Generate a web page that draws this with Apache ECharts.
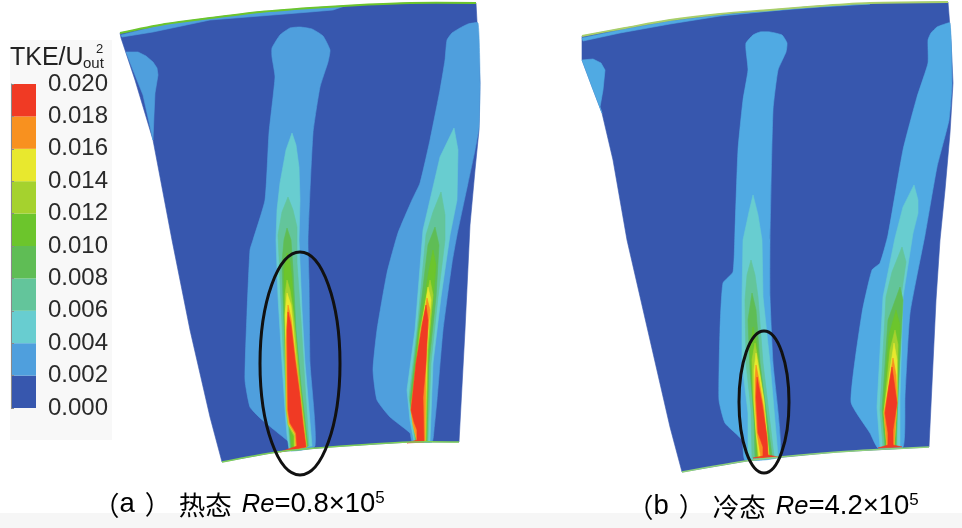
<!DOCTYPE html>
<html><head><meta charset="utf-8">
<style>html,body{margin:0;padding:0;background:#fff}#c{width:962px;height:528px}</style>
<script src="https://cdn.jsdelivr.net/npm/echarts@6/dist/echarts.min.js"></script></head>
<body><div id="c"></div>
<script>
// Colour scale (TKE/Uout^2)
const levelValues=[0,0.002,0.004,0.006,0.008,0.010,0.012,0.014,0.016,0.018,0.020];
const levelColors=['#3757ae','#4f9fdd','#68cdd0','#63c59b','#5fbd55','#6cc52c','#a5d22e','#e8e82e','#f8911f','#f03a24'];
const tickLabels=['0.000','0.002','0.004','0.006','0.008','0.010','0.012','0.014','0.016','0.018','0.020'];
const bluePanelB='#50aae3';

// Panel outlines [x,y] in picture units
const bladeA=[[120,33],[165,24],[210,18],[260,12],[310,8],[360,5],[410,3],[476,3],[478,40],[480,83],[479,130],[475,170],[470,225],[465,330],[459,442],[410,442],[330,447],[277,452],[222,462],[210,417],[190,330],[172,240],[153,140],[135,80],[121,38]];
const bladeB=[[582,36],[625,28],[670,20],[720,14],[770,10],[820,6],[870,3],[948,2],[951,40],[953,83],[950,133],[945,190],[940,240],[936,300],[929,447],[837,452],[753,460],[682,472],[670,427],[650,340],[627,240],[613,160],[602,113],[582,60]];

// Contour bands of panel (a)
const a_edgeBand=[[121,35],[165,24],[210,18],[260,12],[310,8],[345,6],[333,10],[310,12],[210,20],[153,32],[122,37]];
const a_leftPatch=[[126,52],[138,52],[146,56],[153,62],[157,68],[158,75],[155,93],[154,115],[153,140],[143,95],[133,70]];
const a_w1=[
 [[300,27],[312,29],[323,36],[330,50],[328,62],[320,87],[313,133],[308,240],[309,280],[310,363],[315,446],[291,451],[290,443],[278,433],[260,418],[250,407],[245,380],[247,313],[250,250],[253,240],[265,200],[269,133],[275,77],[272,57],[272,48],[280,35],[290,28]],
 [[292,133],[296,145],[299,167],[300,200],[299,240],[300,263],[302,310],[305,363],[309,410],[312,446],[289,449],[287,435],[285,410],[282,363],[278,297],[276,240],[277,210],[280,183],[286,150]],
 [[288,197],[293,210],[297,227],[297,263],[301,320],[305,385],[309,446],[290,449],[287,403],[283,347],[280,280],[278,235],[282,212]],
 [[287,228],[291,240],[293,270],[296,330],[301,385],[308,446],[291,449],[288,410],[285,350],[283,300],[282,262],[284,240]],
 [[287,253],[290,262],[292,280],[295,330],[300,385],[307,447],[292,449],[289,415],[286,350],[284,295],[284,270]],
 [[287,280],[290,290],[293,310],[295,330],[300,385],[307,447],[294,449],[294,436],[288,425],[286,410],[285,350],[285,310],[285,295]],
 [[287,293],[291,305],[293,325],[298,380],[306,447],[295,449],[295,435],[289,425],[287,410],[286,350],[285,315]],
 [[288,305],[291,318],[294,345],[299,385],[306,447],[296,449],[295,434],[289,424],[287,410],[286,340]],
 [[288,312],[291,325],[295,360],[300,397],[303,425],[306,447],[280,452],[297,446],[296,433],[290,423],[288,410],[287,330]]
];
const a_w2=[
 [[478,23],[468,24],[460,28],[452,33],[447,40],[445,60],[440,90],[430,140],[420,183],[412,200],[398,233],[387,273],[377,330],[373,370],[377,400],[390,417],[410,433],[412,441],[432,442],[434,430],[437,400],[443,330],[452,263],[457,235],[468,183],[475,150],[479,127],[480,83]],
 [[454,128],[458,150],[457,200],[450,235],[441,297],[433,363],[430,441],[414,441],[410,420],[407,390],[415,330],[423,230],[430,200],[440,157]],
 [[441,192],[445,215],[445,240],[438,297],[431,363],[428,441],[415,441],[412,420],[409,397],[417,330],[426,235],[433,212]],
 [[435,227],[439,245],[436,297],[429,363],[427,441],[416,441],[413,420],[410,400],[418,330],[428,245]],
 [[433,250],[436,265],[433,300],[428,363],[426,441],[417,441],[414,425],[411,405],[419,330],[429,270]],
 [[430,280],[433,295],[428,350],[426,441],[417,441],[414,425],[411,408],[420,330]],
 [[428,287],[431,300],[427,350],[425,441],[417,441],[413,425],[411,410],[421,330]],
 [[427,298],[430,310],[426,350],[425,441],[417,441],[413,424],[411,410],[421,340]],
 [[426,305],[428,320],[426,363],[423,397],[424,442],[407,443],[417,440],[417,430],[414,422],[411,410],[416,363],[422,325]]
];
// Contour bands of panel (b)
const b_edgeBand=[[582,38],[625,29],[670,21],[720,15],[770,11],[820,7],[870,4],[805,7],[770,11],[720,16],[670,24],[620,33],[583,41]];
const b_leftPatch=[[582,60],[593,59],[601,63],[605,70],[604,80],[603,90],[600,107],[602,113],[592,87]];
const b_w1=[
 [[770,32],[782,35],[787,43],[786,52],[778,70],[773,110],[770,240],[770,297],[773,363],[780,456],[745,460],[742,440],[725,423],[719,400],[720,330],[723,283],[733,272],[735,230],[738,150],[743,100],[748,70],[746,50],[746,43],[753,35],[760,32]],
 [[753,195],[758,215],[762,240],[763,297],[770,363],[778,456],[748,459],[748,413],[742,363],[742,297],[743,240],[749,212]],
 [[751,260],[755,275],[758,297],[763,363],[774,456],[752,458],[751,410],[746,363],[745,300],[747,275]],
 [[752,293],[756,310],[760,363],[772,456],[755,458],[754,420],[750,370],[748,320]],
 [[753,327],[757,345],[762,390],[770,456],[757,458],[755,425],[752,385],[750,350]],
 [[755,343],[758,360],[763,395],[769,456],[758,458],[756,430],[753,395],[752,360]],
 [[756,353],[759,370],[764,400],[769,456],[759,458],[756,432],[754,400],[754,370]],
 [[756,365],[759,380],[764,410],[768,456],[761,458],[757,433],[755,400],[755,380]],
 [[757,377],[762,403],[767,437],[768,455],[778,457],[753,458],[763,456],[763,447],[758,433],[756,397]]
];
const b_w2=[
 [[950,23],[942,25],[937,27],[931,33],[928,40],[928,63],[917,97],[903,150],[888,235],[880,263],[872,270],[862,313],[851,402],[870,433],[878,448],[903,447],[905,397],[910,313],[925,235],[937,167],[949,120],[952,83]],
 [[914,185],[918,200],[918,213],[913,233],[903,297],[900,397],[900,446],[880,447],[877,407],[883,297],[895,238],[903,207]],
 [[902,247],[906,262],[901,297],[897,397],[897,446],[883,447],[880,410],[886,297],[892,272]],
 [[900,287],[903,300],[898,397],[896,446],[885,447],[882,410],[888,320]],
 [[896,310],[900,325],[897,397],[895,446],[886,447],[883,412],[889,335]],
 [[895,330],[898,345],[897,400],[894,446],[887,447],[884,412],[890,350]],
 [[894,343],[897,360],[897,400],[894,446],[887,447],[884,412],[890,370]],
 [[893,358],[896,375],[897,402],[894,446],[887,447],[884,413],[889,385]],
 [[892,367],[897,403],[893,430],[893,445],[902,447],[878,448],[888,445],[888,433],[885,413],[889,385]]
];
const a_topEdge=bladeA.slice(0,8);
const a_bottomEdge=[[222,462],[277,452],[330,447],[410,442],[459,442]];
const b_topEdge=bladeB.slice(0,8);
const b_bottomEdge=[[682,472],[753,460],[837,452],[929,447]];
// Marked zones: centre x, centre y, half width, half height
const zones=[[300,363.5,40,111.5],[764,402,25,71]];
// Light page tints
const tints=[[10,40,112,440,'#f8f8f8'],[0,513,962,528,'#f6f6f6']];

const layers=[];
const add=(pts,color,smooth)=>layers.push({kind:'poly',pts,color,smooth});
const addWake=(w,blue)=>w.forEach((p,i)=>add(p,i===0&&blue?blue:levelColors[i+1],i===0?0.15:0));
tints.forEach(t=>layers.push({kind:'rect',t}));
add(bladeA,levelColors[0],0);
add(a_edgeBand,levelColors[1],0);
add(a_leftPatch,levelColors[1],0);
addWake(a_w1);addWake(a_w2);
layers.push({kind:'line',pts:a_topEdge,color:'#6cc52c',w:2});
layers.push({kind:'line',pts:a_bottomEdge,color:'#7fd05a',w:1.6});
add(bladeB,levelColors[0],0);
add(b_edgeBand,bluePanelB,0);
add(b_leftPatch,bluePanelB,0);
addWake(b_w1,bluePanelB);addWake(b_w2,bluePanelB);
layers.push({kind:'line',pts:b_topEdge,color:'#a9cf6a',w:1.8});
layers.push({kind:'line',pts:b_bottomEdge,color:'#8fd27a',w:1.6});
zones.forEach(z=>layers.push({kind:'zone',z}));

function renderLayer(params,api){
  const l=layers[api.value(0)];
  const P=p=>api.coord(p);
  if(l.kind==='rect'){const a=P([l.t[0],l.t[1]]),b=P([l.t[2],l.t[3]]);
    return {type:'rect',shape:{x:a[0],y:a[1],width:b[0]-a[0],height:b[1]-a[1]},style:{fill:l.t[4]}};}
  if(l.kind==='poly')return {type:'polygon',shape:{points:l.pts.map(P),smooth:l.smooth},style:{fill:l.color,stroke:l.color,lineWidth:0.6}};
  if(l.kind==='line')return {type:'polyline',shape:{points:l.pts.map(P),smooth:0.3},style:{fill:null,stroke:l.color,lineWidth:l.w}};
  const c=P([l.z[0],l.z[1]]),e=P([l.z[0]+l.z[2],l.z[1]+l.z[3]]);
  return {type:'ellipse',shape:{cx:c[0],cy:c[1],rx:e[0]-c[0],ry:e[1]-c[1]},style:{fill:null,stroke:'#111',lineWidth:3}};
}
function renderBand(params,api){
  const i=api.value(0);
  const a=api.coord([0,levelValues[i+1]]),b=api.coord([1,levelValues[i]]);
  return {type:'rect',shape:{x:a[0],y:a[1],width:b[0]-a[0],height:b[1]-a[1]},style:{fill:levelColors[i]}};
}
const chart=echarts.init(document.getElementById('c'),null,{renderer:'canvas'});
const ff='"Liberation Sans",Arial,sans-serif';
const richCap={t:{fontFamily:ff,fontSize:27.5,color:'#222'},
 cjk:{fontFamily:'"Noto Sans CJK SC"',fontSize:26.5,color:'#333'},
 close:{fontFamily:'"Noto Sans CJK SC"',fontSize:26,color:'#333',padding:[0,8,0,10]},
 i:{fontFamily:ff,fontSize:25.5,fontStyle:'italic',color:'#222',padding:[0,0,0,10]},
 sup:{fontFamily:ff,fontSize:17,color:'#222',padding:[0,0,12,0]}};
chart.setOption({
 animation:false,backgroundColor:'#fff',
 grid:[{left:0,right:0,top:0,bottom:0},{left:11,top:84,width:25,height:324,z:5}],
 xAxis:[{type:'value',min:0,max:962,show:false},{type:'value',gridIndex:1,min:0,max:1,show:false}],
 yAxis:[{type:'value',min:0,max:528,inverse:true,show:false},
  {type:'value',gridIndex:1,min:0,max:0.02,interval:0.002,z:5,
   axisLine:{show:true,lineStyle:{color:'#8a8a8a',width:1}},
   axisTick:{show:true,length:3,inside:false,lineStyle:{color:'#8a8a8a'}},
   splitLine:{show:false},position:'right',
   axisLabel:{margin:12,padding:[4,0,0,0],fontFamily:ff,fontSize:24,color:'#2a2a2a',formatter:(v)=>tickLabels[Math.round(v/0.002)]}}],
 series:[
  {type:'custom',clip:false,silent:true,data:layers.map((l,i)=>[i]),encode:{x:0},renderItem:renderLayer,z:1},
  {type:'custom',xAxisIndex:1,yAxisIndex:1,silent:true,clip:false,data:levelColors.map((c,i)=>[i]),encode:{x:0},renderItem:renderBand,z:4}
 ],
 graphic:[
  {type:'text',left:10,top:46,z:10,style:{text:'TKE/U',fontFamily:ff,fontSize:25,fill:'#222'}},
  {type:'text',left:83,top:56,z:10,style:{text:'out',fontFamily:ff,fontSize:15,fill:'#222'}},
  {type:'text',left:96,top:43,z:10,style:{text:'2',fontFamily:ff,fontSize:13,fill:'#222'}},
  {type:'text',left:93,top:490,z:10,style:{text:'{cjk|（}{t|a}{close|）}{cjk|热态}{i|Re}{t|=0.8×10}{sup|5}',rich:richCap}},
  {type:'text',left:627,top:492,z:10,style:{text:'{cjk|（}{t|b}{close|）}{cjk|冷态}{i|Re}{t|=4.2×10}{sup|5}',rich:richCap}}
 ]
});
</script></body></html>
